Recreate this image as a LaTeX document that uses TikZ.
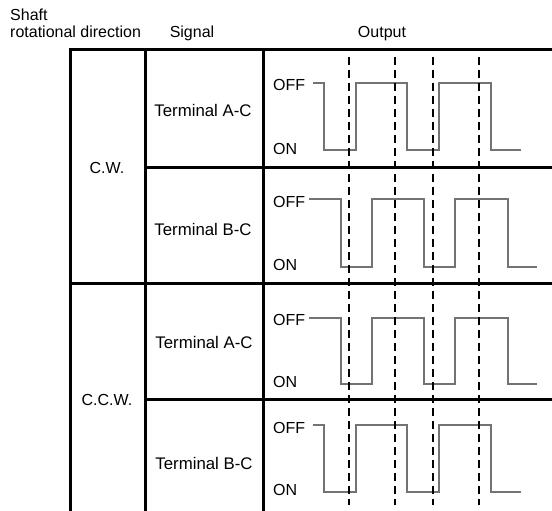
\documentclass[tikz,border=0pt]{standalone}
\usepackage{fontspec}
\setmainfont{Liberation Sans}
\begin{document}
\begin{tikzpicture}[x=1pt,y=-1pt,
  grid/.style={line width=3pt,black},
  cut/.style={line width=2pt,black,dash pattern=on 8pt off 5pt},
  wave/.style={line width=1.1pt,black!55},
  lbl/.style={inner sep=0pt,font=\fontsize{16}{18}\selectfont},
  sig/.style={inner sep=0pt,font=\fontsize{16.8}{19}\selectfont},
  lvl/.style={lbl,anchor=west}]
\useasboundingbox (0,0) rectangle (552,511);
% headers
\node[lbl,anchor=base west] (hshaft) at (10,21) {Shaft};
\node[lbl,anchor=base west] (hrot) at (10,38) {rotational direction};
\node[lbl,anchor=base] (hsig) at (192,38) {Signal};
\node[lbl,anchor=base] (hout) at (382,38) {Output};
% table
\draw[grid] (70,511) -- (70,50) -- (552,50);
\draw[grid] (145,50) -- (145,511);
\draw[grid] (263,50) -- (263,511);
\draw[grid] (145,167) -- (552,167);
\draw[grid] (70,283) -- (552,283);
\draw[grid] (145,399) -- (552,399);
% row labels
\node[lbl] (cw) at (107,168) {C.W.};
\node[lbl] (ccw) at (107,400) {C.C.W.};
\node[sig] (s1) at (203,110) {Terminal A-C};
\node[sig] (s2) at (203,229) {Terminal B-C};
\node[sig] (s3) at (204,342) {Terminal A-C};
\node[sig] (s4) at (204,463) {Terminal B-C};
% level labels
\node[lvl] (off1) at (273,85) {OFF};
\node[lvl] (on1) at (273,149) {ON};
\node[lvl] (off2) at (273,202) {OFF};
\node[lvl] (on2) at (273,265) {ON};
\node[lvl] (off3) at (273,320) {OFF};
\node[lvl] (on3) at (273,382) {ON};
\node[lvl] (off4) at (273,428) {OFF};
\node[lvl] (on4) at (273,490) {ON};
% waveforms
\draw[wave] (313,83) -- (324,83) -- (324,150) -- (356,150) -- (356,83) -- (407,83) -- (407,150) -- (439,150) -- (439,83) -- (491,83) -- (491,150) -- (521,150);
\draw[wave] (309,199) -- (341,199) -- (341,267) -- (372,267) -- (372,199) -- (424,199) -- (424,267) -- (455,267) -- (455,199) -- (508,199) -- (508,267) -- (537,267);
\draw[wave] (309,318) -- (341,318) -- (341,384) -- (372,384) -- (372,318) -- (424,318) -- (424,384) -- (455,384) -- (455,318) -- (508,318) -- (508,384) -- (537,384);
\draw[wave] (313,425) -- (324,425) -- (324,492) -- (356,492) -- (356,425) -- (407,425) -- (407,492) -- (439,492) -- (439,425) -- (491,425) -- (491,492) -- (521,492);
% timing cuts
\foreach \x/\n in {349/a,395/b,433/c,479/d}{
  \coordinate (t\n) at (\x,57);
  \coordinate (b\n) at (\x,505);
  \draw[cut] (t\n) -- (b\n);
}
\end{tikzpicture}
\end{document}
